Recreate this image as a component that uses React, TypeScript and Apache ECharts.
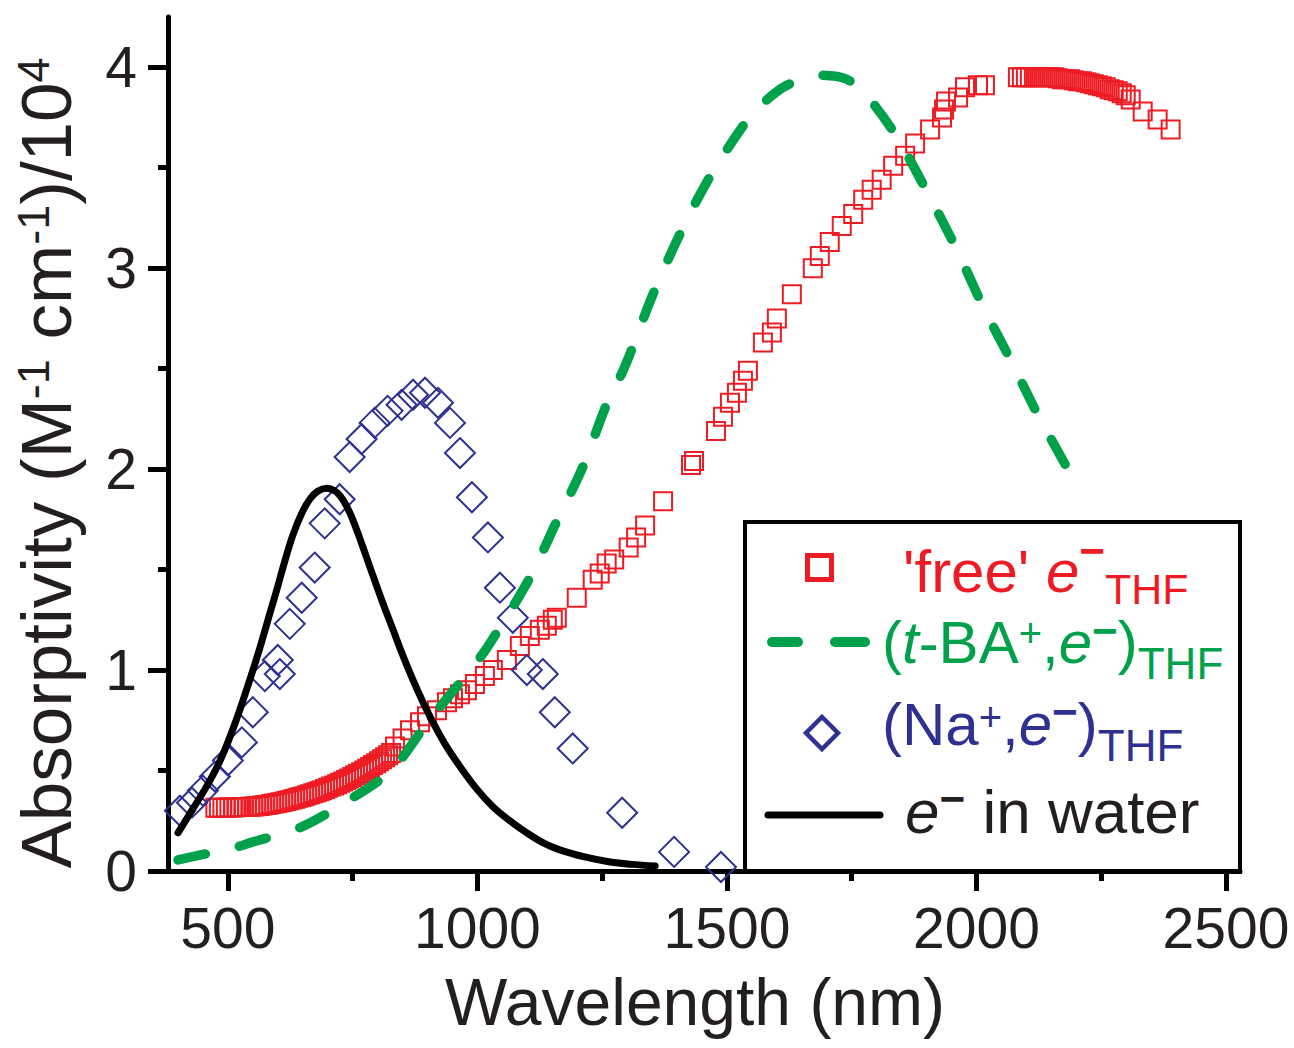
import React, { useEffect, useRef } from 'react';
import * as echarts from 'echarts';

const FONT = '"Liberation Sans", Arial, Helvetica, sans-serif';
const RED = '#ED1C24';
const GREEN = '#00A14B';
const BLUE = '#2E3192';
const INK = '#231F20';

// Axis ticks
const xMajorTicks = [500, 1000, 1500, 2000, 2500];
const xMinorTicks = [750, 1250, 1750, 2250];
const yMajorTicks = [0, 1, 2, 3, 4];
const yMinorTicks = [0.5, 1.5, 2.5, 3.5];

// 'free' e- THF (open squares)
const freeX = [
  475, 482, 489, 496, 503, 510, 517, 524, 531, 538, 545, 551, 557, 563, 569, 575, 581, 587, 593, 599,
  605, 611, 617, 623, 629, 635, 641, 647, 653, 659, 665, 671, 677, 683, 689, 695, 701, 707, 713, 719,
  725, 731, 737, 743, 749, 755, 761, 767, 773, 779, 785, 791, 797, 803, 809, 815, 821, 827,
  835, 850, 865, 885, 899, 919, 939, 951, 965, 979, 995, 1015, 1031, 1059, 1085, 1105, 1125, 1139,
  1151, 1159, 1199, 1231, 1245, 1259, 1274, 1303, 1318, 1336, 1372, 1428, 1434, 1478, 1492, 1506,
  1520, 1532, 1542, 1572, 1590, 1600, 1630, 1672, 1686, 1706, 1730, 1753, 1773, 1790, 1810, 1833,
  1857, 1877, 1907, 1931, 1935, 1939, 1963, 1977, 2003, 2017,
  2083, 2091, 2099, 2107, 2115, 2123, 2131, 2139, 2147, 2155, 2163, 2171, 2179, 2187, 2195, 2203,
  2211, 2219, 2227, 2235, 2243, 2251, 2259, 2267, 2275, 2283, 2291, 2299, 2309, 2333, 2363, 2389
];
const freeY = [
  0.315, 0.315, 0.315, 0.315, 0.316, 0.316, 0.317, 0.318, 0.318, 0.319, 0.32, 0.321, 0.322, 0.324, 0.326, 0.328, 0.33, 0.333, 0.336, 0.339,
  0.342, 0.345, 0.348, 0.352, 0.356, 0.36, 0.364, 0.368, 0.372, 0.377, 0.382, 0.387, 0.392, 0.397, 0.402, 0.408, 0.414, 0.42, 0.426, 0.432,
  0.439, 0.446, 0.453, 0.46, 0.468, 0.476, 0.484, 0.492, 0.5, 0.509, 0.518, 0.527, 0.536, 0.546, 0.556, 0.566, 0.576, 0.587,
  0.62, 0.66, 0.7, 0.74, 0.77, 0.8, 0.84, 0.86, 0.88, 0.9, 0.93, 0.97, 1.0, 1.05, 1.12, 1.17, 1.2, 1.22,
  1.25, 1.26, 1.36, 1.45, 1.48, 1.53, 1.55, 1.61, 1.66, 1.72, 1.84, 2.02, 2.04, 2.19, 2.26, 2.33,
  2.38, 2.44, 2.49, 2.63, 2.68, 2.75, 2.87, 3.0, 3.06, 3.13, 3.21, 3.27, 3.34, 3.39, 3.44, 3.51,
  3.56, 3.62, 3.69, 3.75, 3.79, 3.83, 3.85, 3.9, 3.91, 3.91,
  3.95, 3.95, 3.95, 3.95, 3.95, 3.95, 3.95, 3.95, 3.95, 3.95, 3.945, 3.94, 3.94, 3.94, 3.935, 3.93,
  3.93, 3.925, 3.92, 3.915, 3.91, 3.905, 3.9, 3.89, 3.885, 3.88, 3.87, 3.86, 3.84, 3.78, 3.74, 3.69
];

// (t-BA+, e-) THF (dashed curve)
const tbaX = [400, 464, 518, 544, 648, 734, 827, 903, 981, 1019, 1103, 1157, 1211, 1260, 1290, 1310, 1350, 1402, 1460, 1530, 1572, 1620, 1680, 1740, 1786, 1841, 1901, 1961, 2013, 2071, 2121, 2183];
const tbaY = [0.055, 0.09, 0.12, 0.14, 0.22, 0.34, 0.5, 0.75, 0.985, 1.11, 1.45, 1.73, 2.01, 2.33, 2.48, 2.6, 2.86, 3.15, 3.43, 3.7, 3.82, 3.91, 3.96, 3.94, 3.84, 3.65, 3.38, 3.09, 2.81, 2.53, 2.28, 2.0];

// (Na+, e-) THF (open diamonds)
const naX = [404, 428, 450, 474, 500, 528, 550, 574, 600, 604, 624, 648, 674, 694, 724, 744, 768, 794, 820, 848, 871, 895, 921, 945, 965, 989, 1021, 1045, 1071, 1099, 1131, 1155, 1191, 1290, 1394, 1488];
const naY = [0.3, 0.34, 0.4, 0.47, 0.55, 0.64, 0.79, 0.97, 1.05, 0.98, 1.23, 1.36, 1.51, 1.73, 1.85, 2.06, 2.15, 2.23, 2.29, 2.32, 2.37, 2.38, 2.33, 2.23, 2.08, 1.86, 1.66, 1.41, 1.26, 1.0, 0.98, 0.79, 0.61, 0.29, 0.095, 0.02];

// e- in water (solid curve)
const waterX = [400, 430, 464, 490, 518, 545, 564, 585, 598, 615, 630, 648, 664, 680, 698, 712, 724, 737, 750, 768, 785, 808, 831, 851, 871, 891, 911, 938, 965, 998, 1031, 1065, 1099, 1132, 1165, 1215, 1266, 1310, 1356];
const waterY = [0.19, 0.31, 0.45, 0.58, 0.76, 0.96, 1.11, 1.29, 1.4, 1.55, 1.67, 1.78, 1.85, 1.89, 1.905, 1.895, 1.87, 1.82, 1.75, 1.63, 1.51, 1.35, 1.2, 1.07, 0.95, 0.84, 0.74, 0.62, 0.52, 0.41, 0.32, 0.25, 0.19, 0.14, 0.105, 0.07, 0.045, 0.033, 0.025];

const pairs = (xs: number[], ys: number[]) => xs.map((x, i) => [x, ys[i]]);

function richRow(color: string, tokens: Record<string, any>) {
  const out: Record<string, any> = {};
  Object.keys(tokens).forEach((k) => {
    out[k] = { fill: color, fontFamily: FONT, lineHeight: 60, verticalAlign: 'top', ...tokens[k] };
  });
  return out;
}

export default function App() {
  const ref = useRef<HTMLDivElement>(null);

  useEffect(() => {
    if (!ref.current) return;
    document.body.style.margin = '0';
    const chart = echarts.init(ref.current, undefined, { renderer: 'svg' });

    const tickLine = { color: '#000', width: 5 };
    const plain = (v: number) => String(v);

    const option: any = {
      animation: false,
      backgroundColor: '#ffffff',
      textStyle: { fontFamily: FONT },
      grid: { left: 168, right: 54, top: 17, bottom: 177 },
      xAxis: [
        {
          type: 'value', min: 380, max: 2528, position: 'bottom',
          name: 'Wavelength (nm)', nameLocation: 'middle', nameGap: 98,
          nameTextStyle: { fontSize: 66, fontFamily: FONT, color: INK, padding: [0, 18, 0, 0] },
          axisLine: { show: true, onZero: false, lineStyle: { color: '#000', width: 5, cap: 'round' } },
          axisTick: { show: true, customValues: xMajorTicks, length: 20, lineStyle: tickLine },
          axisLabel: { show: true, customValues: xMajorTicks, formatter: plain, fontSize: 57, fontFamily: FONT, color: INK, margin: 28 },
          splitLine: { show: false },
        },
        {
          type: 'value', min: 380, max: 2528, position: 'bottom', offset: 0,
          axisLine: { show: false, onZero: false },
          axisTick: { show: true, customValues: xMinorTicks, length: 10, lineStyle: tickLine },
          axisLabel: { show: false },
          splitLine: { show: false },
        },
      ],
      yAxis: [
        {
          type: 'value', min: 0, max: 4.25, position: 'left',
          name: '{m|Absorptivity (M}{p|-1}{m| cm}{p|-1}{m|)/10}{p|4}',
          nameLocation: 'middle', nameRotate: 90, nameGap: 86,
          nameTextStyle: {
            color: INK, fontFamily: FONT, fontSize: 71, padding: [0, 38, 0, 0],
            rich: {
              m: { fontSize: 71, lineHeight: 71, fontFamily: FONT, color: INK, verticalAlign: 'top' },
              p: { fontSize: 45, lineHeight: 45, fontFamily: FONT, color: INK, verticalAlign: 'top' },
            },
          },
          axisLine: { show: true, onZero: false, lineStyle: { color: '#000', width: 5, cap: 'round' } },
          axisTick: { show: true, customValues: yMajorTicks, length: 20, lineStyle: tickLine },
          axisLabel: { show: true, customValues: yMajorTicks, formatter: plain, fontSize: 57, fontFamily: FONT, color: INK, margin: 31 },
          splitLine: { show: false },
        },
        {
          type: 'value', min: 0, max: 4.25, position: 'left', offset: 0,
          axisLine: { show: false, onZero: false },
          axisTick: { show: true, customValues: yMinorTicks, length: 10, lineStyle: tickLine },
          axisLabel: { show: false },
          splitLine: { show: false },
        },
      ],
      series: [
        {
          name: "'free' e- THF", type: 'scatter', xAxisIndex: 0, yAxisIndex: 0,
          symbol: 'rect', symbolSize: 18,
          itemStyle: { color: 'rgba(0,0,0,0)', borderColor: RED, borderWidth: 2, opacity: 1 },
          data: pairs(freeX, freeY),
        },
        {
          name: '(t-BA+, e-) THF', type: 'line', xAxisIndex: 0, yAxisIndex: 0,
          showSymbol: false, symbol: 'none', smooth: 0.3,
          lineStyle: { color: GREEN, width: 9.5, type: [28, 35], cap: 'round' },
          data: pairs(tbaX, tbaY),
        },
        {
          name: '(Na+, e-) THF', type: 'scatter', xAxisIndex: 0, yAxisIndex: 0,
          symbol: 'diamond', symbolSize: 30,
          itemStyle: { color: 'rgba(0,0,0,0)', borderColor: BLUE, borderWidth: 2, opacity: 1 },
          data: pairs(naX, naY),
        },
        {
          name: 'e- in water', type: 'line', xAxisIndex: 0, yAxisIndex: 0,
          showSymbol: false, symbol: 'none', smooth: 0.35,
          lineStyle: { color: '#000', width: 7, cap: 'round' },
          data: pairs(waterX, waterY),
        },
      ],
      graphic: [
        {
          type: 'group', z: 100,
          children: [
            { type: 'rect', shape: { x: 745, y: 522, width: 495, height: 350 }, style: { fill: '#fff', stroke: '#000', lineWidth: 4 } },
            // markers
            { type: 'rect', shape: { x: 807.5, y: 555.5, width: 24, height: 24 }, style: { fill: 'none', stroke: RED, lineWidth: 5 } },
            { type: 'line', shape: { x1: 772, y1: 642, x2: 798, y2: 642 }, style: { stroke: GREEN, lineWidth: 10, lineCap: 'round' } },
            { type: 'line', shape: { x1: 835, y1: 642, x2: 865, y2: 642 }, style: { stroke: GREEN, lineWidth: 10, lineCap: 'round' } },
            { type: 'polygon', shape: { points: [[822, 717], [838, 733], [822, 749], [806, 733]] }, style: { fill: 'none', stroke: BLUE, lineWidth: 4.5 } },
            { type: 'line', shape: { x1: 768, y1: 815, x2: 880, y2: 815 }, style: { stroke: '#000', lineWidth: 7, lineCap: 'round' } },
            // labels
            {
              type: 'text', x: 903, y: 528,
              style: {
                text: "{m|'free' }{i|e}{q|−}{s|THF}", fill: RED, align: 'left', verticalAlign: 'top',
                fontFamily: FONT, fontSize: 60,
                rich: richRow(RED, {
                  m: { fontSize: 60, padding: [13, 0, 0, 0] },
                  i: { fontSize: 60, padding: [13, 0, 0, 0], fontStyle: 'italic' },
                  q: { fontSize: 44, fontWeight: 'bold' },
                  s: { fontSize: 43, padding: [39, 0, 0, 0] },
                }),
              },
            },
            {
              type: 'text', x: 882, y: 608,
              style: {
                text: '{m|(}{i|t}{m|-BA}{p|+}{m|,}{i|e}{q|−}{m|)}{s|THF}', fill: GREEN, align: 'left', verticalAlign: 'top',
                fontFamily: FONT, fontSize: 60,
                rich: richRow(GREEN, {
                  m: { fontSize: 60, padding: [4, 0, 0, 0] },
                  i: { fontSize: 60, padding: [4, 0, 0, 0], fontStyle: 'italic' },
                  p: { fontSize: 40, padding: [5, 0, 0, 0] },
                  q: { fontSize: 44, fontWeight: 'bold' },
                  s: { fontSize: 44, padding: [33, 0, 0, 0] },
                }),
              },
            },
            {
              type: 'text', x: 882, y: 689,
              style: {
                text: '{m|(Na}{p|+}{m|,}{i|e}{q|−}{m|)}{s|THF}', fill: BLUE, align: 'left', verticalAlign: 'top',
                fontFamily: FONT, fontSize: 60,
                rich: richRow(BLUE, {
                  m: { fontSize: 60, padding: [5, 0, 0, 0] },
                  i: { fontSize: 60, padding: [5, 0, 0, 0], fontStyle: 'italic' },
                  p: { fontSize: 40, padding: [8, 0, 0, 0] },
                  q: { fontSize: 44, fontWeight: 'bold' },
                  s: { fontSize: 44, padding: [34, 0, 0, 0] },
                }),
              },
            },
            {
              type: 'text', x: 905, y: 776,
              style: {
                text: '{i|e}{q|−}{m| in water}', fill: INK, align: 'left', verticalAlign: 'top',
                fontFamily: FONT, fontSize: 62,
                rich: richRow(INK, {
                  m: { fontSize: 62, padding: [4, 0, 0, 0] },
                  i: { fontSize: 62, padding: [4, 0, 0, 0], fontStyle: 'italic' },
                  q: { fontSize: 44, fontWeight: 'bold' },
                }),
              },
            },
          ],
        },
      ],
    };

    chart.setOption(option);
    return () => chart.dispose();
  }, []);

  return (
    <div
      ref={ref}
      style={{ position: 'fixed', left: 0, top: 0, width: 1294, height: 1048, background: '#fff' }}
    />
  );
}
